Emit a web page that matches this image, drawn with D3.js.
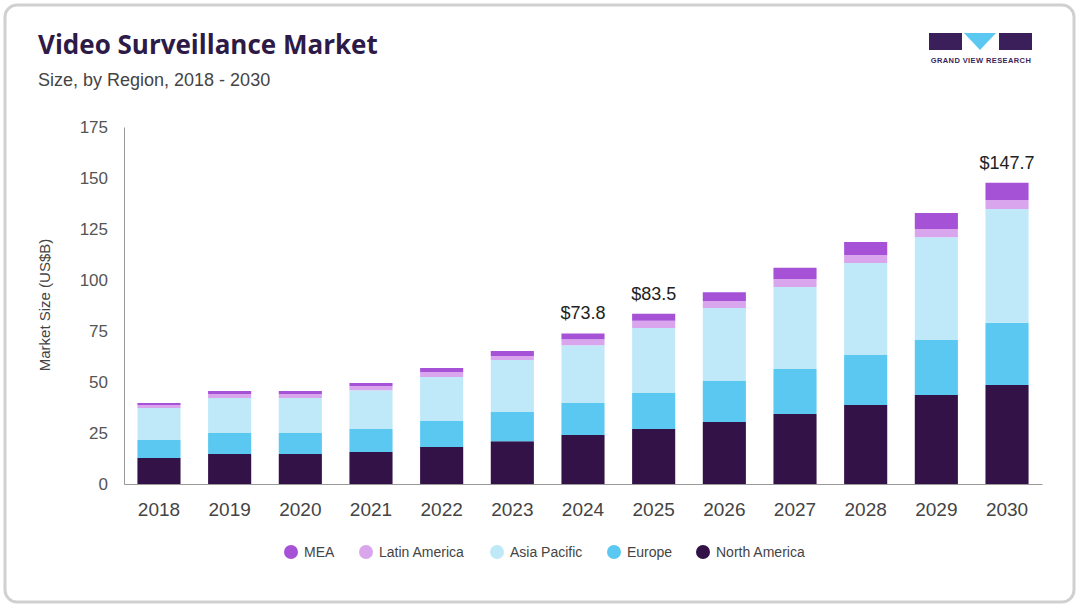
<!DOCTYPE html>
<html><head><meta charset="utf-8">
<script src="https://cdn.jsdelivr.net/npm/d3@7"></script>
<style>body{margin:0;background:#fff;font-family:"Liberation Sans",Arial,sans-serif}</style>
</head><body><div id="chart"></div>
<script>
const years = ["2018","2019","2020","2021","2022","2023","2024","2025","2026","2027","2028","2029","2030"];
const northAmerica = [12.7,14.7,14.7,15.7,18.1,21.0,24.0,27.0,30.4,34.3,38.7,43.6,48.5];
const europe       = [8.9,10.3,10.3,11.3,12.8,14.3,15.7,17.6,20.1,22.1,24.5,27.0,30.5];
const asiaPacific  = [15.7,17.2,17.2,19.0,21.6,25.5,28.3,31.9,35.8,40.2,45.1,50.4,55.8];
const latinAmerica = [1.4,1.9,1.9,2.0,2.4,1.9,3.0,3.5,3.4,3.9,4.0,4.0,4.4];
const mea          = [1.0,1.5,1.5,1.5,2.0,2.5,2.8,3.5,4.3,5.5,6.3,7.8,8.5];
const regions = ["North America","Europe","Asia Pacific","Latin America","MEA"];
const colors = ["#321247","#5ac8f0","#bfe9f9","#d9a6ee","#a652d6"];
const labelled = {"2024":"$73.8","2025":"$83.5","2030":"$147.7"};
const legendOrder = ["MEA","Latin America","Asia Pacific","Europe","North America"];

const width = 1080, height = 608;
const svg = d3.select("#chart").append("svg").attr("width", width).attr("height", height);
svg.append("rect").attr("x",5).attr("y",5).attr("width",1069).attr("height",597)
  .attr("rx",12).attr("fill","#fff").attr("stroke","#d0d0d0").attr("stroke-width",3);

svg.append("text").attr("x",38).attr("y",54).text("Video Surveillance Market")
  .attr("font-size",26).attr("font-weight",700).attr("fill","#2e1a47").attr("font-family","Open Sans, sans-serif");
svg.append("text").attr("x",38).attr("y",86).text("Size, by Region, 2018 - 2030")
  .attr("font-size",18).attr("fill","#444");

// logo
const logo = svg.append("g");
logo.append("rect").attr("x",929).attr("y",33).attr("width",33).attr("height",17).attr("fill","#3b1f5a");
logo.append("path").attr("d","M964,33 L996,33 L980,50 Z").attr("fill","#5ac8f0");
logo.append("rect").attr("x",999).attr("y",33).attr("width",33).attr("height",17).attr("fill","#3b1f5a");
logo.append("text").attr("x",981).attr("y",63).attr("text-anchor","middle").text("GRAND VIEW RESEARCH")
  .attr("font-size",7.5).attr("font-weight",700).attr("fill","#3b1f5a").attr("letter-spacing",0.4);

const table = years.map((y,i)=>({year:y,"North America":northAmerica[i],"Europe":europe[i],
  "Asia Pacific":asiaPacific[i],"Latin America":latinAmerica[i],"MEA":mea[i]}));
const stack = d3.stack().keys(regions)(table);

const x = d3.scaleBand().domain(years).range([124,1042]).paddingInner(0.39).paddingOuter(0.19);
const y = d3.scaleLinear().domain([0,175]).range([484,127]);

const color = d3.scaleOrdinal().domain(regions).range(colors);

svg.append("g").attr("transform","translate(124,0)")
  .call(d3.axisLeft(y).tickValues([0,25,50,75,100,125,150,175]).tickSize(0).tickPadding(16))
  .call(g=>g.select(".domain").attr("stroke","#999"))
  .call(g=>g.selectAll("text").attr("font-size",17).attr("fill","#555").attr("font-family","Liberation Sans, Arial, sans-serif"));

svg.append("text").attr("transform","translate(50,305) rotate(-90)").attr("text-anchor","middle")
  .text("Market Size (US$B)").attr("font-size",15).attr("fill","#444");

svg.append("g").selectAll("g").data(stack).join("g").attr("fill",d=>color(d.key))
  .selectAll("path").data(d=>d).join("path")
  .attr("d",d=>{
    const x0=x(d.data.year), w=x.bandwidth(), yt=y(d[1]), yb=y(d[0]);
    return `M${x0},${yb}V${yt}H${x0+w}V${yb}Z`;
  });

svg.append("g").attr("transform","translate(0,484)")
  .call(d3.axisBottom(x).tickSize(0).tickPadding(19))
  .call(g=>g.select(".domain").attr("stroke","#999"))
  .call(g=>g.selectAll("text").attr("font-size",19).attr("fill","#444").attr("font-family","Liberation Sans, Arial, sans-serif"));

const totals = table.map(d=>({year:d.year,total:d3.sum(regions,k=>d[k])}));
svg.append("g").selectAll("text").data(totals.filter(d=>labelled[d.year])).join("text")
  .attr("x",d=>x(d.year)+x.bandwidth()/2).attr("y",d=>y(d.total)-14)
  .attr("text-anchor","middle").attr("font-size",18).attr("fill","#222")
  .text(d=>labelled[d.year]);

const lx = [291,366,497,614,703];
const leg = svg.append("g").selectAll("g").data(legendOrder).join("g")
  .attr("transform",(d,i)=>`translate(${lx[i]},552)`);
leg.append("circle").attr("r",7).attr("fill",d=>color(d));
leg.append("text").attr("x",13).attr("y",5).text(d=>d).attr("font-size",14).attr("fill","#444");
</script></body></html>
